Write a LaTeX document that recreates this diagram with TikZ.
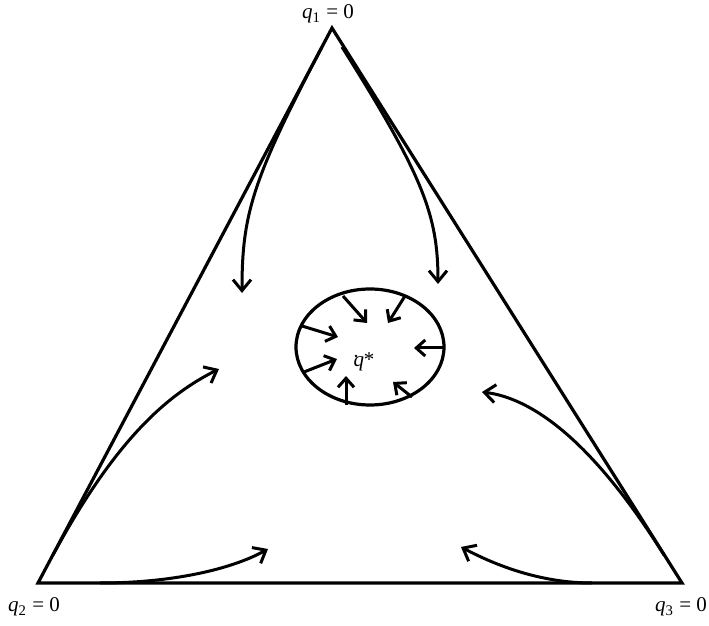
\documentclass[tikz,border=0pt]{standalone}
\usepackage{fontspec}
\setmainfont{Liberation Serif}
\usetikzlibrary{arrows.meta}
\tikzset{
  edge/.style={line width=1.6pt, line join=miter},
  flow/.style={line width=1.5pt, -{Straight Barb[length=5.5pt,width=9pt,line width=1.5pt]}},
  inflow/.style={line width=1.5pt, -{Straight Barb[length=4.5pt,width=8pt,line width=1.5pt]}},
  lab/.style={font=\fontsize{10.5}{12}\selectfont, inner sep=0pt}
}
\begin{document}
\begin{tikzpicture}[x=0.5pt,y=-0.5pt]
\useasboundingbox (0,0) rectangle (709,626);
% vertices
\coordinate (A) at (332,28);
\coordinate (B) at (38,583);
\coordinate (C) at (682,583);
\draw[edge] (A) -- (B) -- (C) -- cycle;
% labels
\node[lab] (l1) at (328,14) {\textit{q}\textsubscript{1} = 0};
\node[lab] (l2) at (34,607) {\textit{q}\textsubscript{2} = 0};
\node[lab] (l3) at (681,607) {\textit{q}\textsubscript{3} = 0};
% ellipse
\coordinate (O) at (370,347);
\draw[edge] (O) ellipse [x radius=74, y radius=58];
\fill (356,356) circle [radius=1.3];
\node[lab] (qs) at (364,362) {\textit{q}*};
% inner arrows
\coordinate (i1s) at (343,296); \coordinate (i1e) at (367,323);
\coordinate (i2s) at (405,296); \coordinate (i2e) at (388,323);
\coordinate (i3s) at (302,326); \coordinate (i3e) at (338,337);
\coordinate (i4s) at (304,372); \coordinate (i4e) at (337,359);
\coordinate (i5s) at (346,405); \coordinate (i5e) at (346,376);
\coordinate (i6s) at (412,397); \coordinate (i6e) at (393,382);
\coordinate (i7s) at (443,348); \coordinate (i7e) at (414,348);
\foreach \k in {1,...,7} \draw[inflow] (i\k s) -- (i\k e);
% big flow curves
\coordinate (s1) at (322,47); \coordinate (e1) at (242,293);
\draw[flow] (s1) .. controls (252,180) and (242,215) .. (e1);
\coordinate (s2) at (342,47); \coordinate (e2) at (438,284);
\draw[flow] (s2) .. controls (423,176) and (438,215) .. (e2);
\coordinate (s3) at (53,555); \coordinate (e3) at (219,369);
\draw[flow] (s3) .. controls (115,440) and (167,395) .. (e3);
\coordinate (s4) at (100,583); \coordinate (e4) at (268,549);
\draw[flow] (s4) .. controls (170,583) and (230,570) .. (e4);
\coordinate (s5) at (664,555); \coordinate (e5) at (482,392);
\draw[flow] (s5) .. controls (590,437) and (530,398) .. (e5);
\coordinate (s6) at (592,583); \coordinate (e6) at (461,547);
\draw[flow] (s6) .. controls (540,583) and (495,565) .. (e6);
\end{tikzpicture}
\end{document}
